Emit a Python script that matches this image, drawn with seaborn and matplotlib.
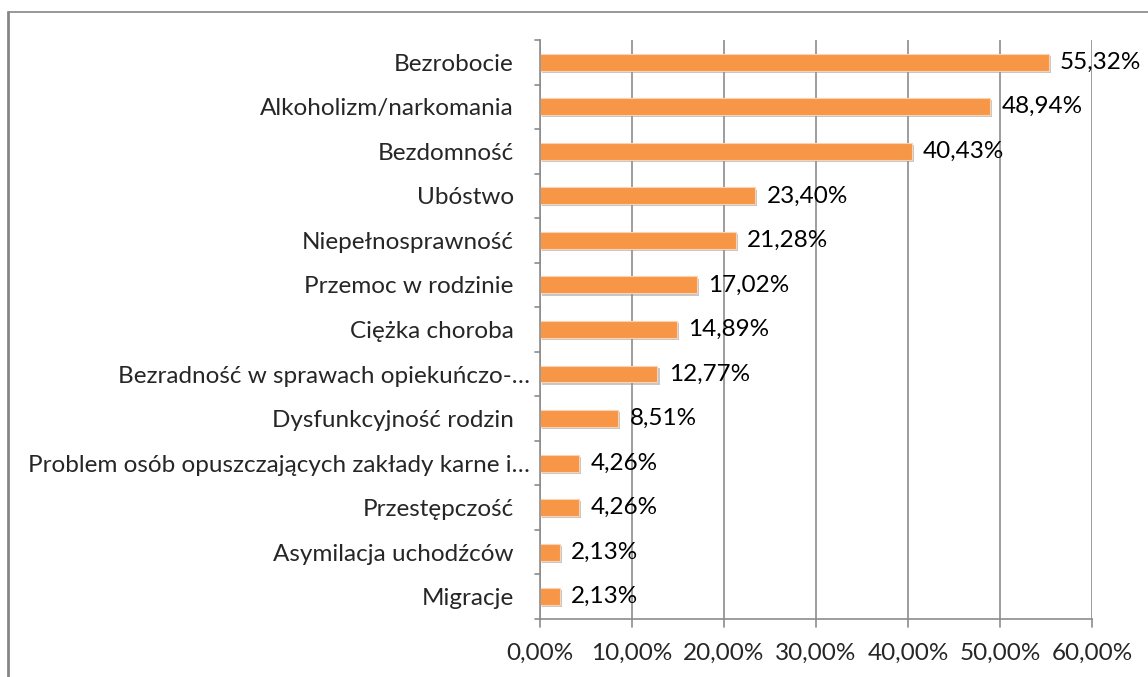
import matplotlib
matplotlib.use("Agg")
import matplotlib.pyplot as plt
import matplotlib.patheffects as pe
import matplotlib.transforms as mtransforms
import seaborn as sns
import pandas as pd

categories = ["Bezrobocie", "Alkoholizm/narkomania", "Bezdomność", "Ubóstwo",
              "Niepełnosprawność", "Przemoc w rodzinie", "Ciężka choroba",
              "Bezradność w sprawach opiekuńczo-…",
              "Dysfunkcyjność rodzin",
              "Problem osób opuszczających zakłady karne i…",
              "Przestępczość", "Asymilacja uchodźców", "Migracje"]
values = [55.32, 48.94, 40.43, 23.40, 21.28, 17.02, 14.89, 12.77, 8.51, 4.26, 4.26, 2.13, 2.13]
xticks = [0, 10, 20, 30, 40, 50, 60]

df = pd.DataFrame({"cat": categories, "val": values})

sns.set_theme(style="white")
plt.rcParams['font.family'] = ['Lato', 'DejaVu Sans']
FS = 17.5

fig = plt.figure(figsize=(11.48, 6.77), dpi=100)
ax = fig.add_axes([0.4704, 0.0857, 0.4808, 0.8552])

sns.barplot(data=df, y="cat", x="val", orient="h", color="#F79646",
            saturation=1, width=0.38, ax=ax, edgecolor="#FBD3B3", linewidth=0.8)
for p in ax.patches:
    p.set_path_effects([pe.SimplePatchShadow(offset=(1.5, -1.5), shadow_rgbFace="#909090", alpha=0.5), pe.Normal()])

labels = [f"{v:.2f}".replace(".", ",") + "%" for v in values]
ax.bar_label(ax.containers[0], labels=labels, padding=8, fontsize=FS, color="#000000")

ax.set_xlim(0, 60)
ax.set_ylim(len(categories) - 0.5, -0.5)
ax.set_xticks(xticks)
ax.set_xticklabels([f"{t:.2f}".replace(".", ",") + "%" for t in xticks], fontsize=FS)
ax.set_xlabel("")
ax.set_ylabel("")
ax.tick_params(axis="y", labelsize=FS, length=0, pad=19)
ax.tick_params(axis="x", length=0, pad=17)
ax.xaxis.grid(True, color="#8C8C8C", linewidth=1.2)
ax.set_axisbelow(True)
for s in ["top", "right"]:
    ax.spines[s].set_visible(False)
ax.spines["left"].set_color("#8C8C8C")
ax.spines["bottom"].set_color("#8C8C8C")
ax.spines["left"].set_linewidth(1.2)
ax.spines["bottom"].set_linewidth(1.2)

# truncated labels sit a bit further right, as in the original
fig.canvas.draw()
for lbl in ax.get_yticklabels():
    if lbl.get_text().endswith("…"):
        lbl.set_transform(lbl.get_transform() + mtransforms.ScaledTranslation(16/100, 0, fig.dpi_scale_trans))

# category boundary ticks on y axis and tick marks on x axis
for b in [i - 0.5 for i in range(len(categories) + 1)]:
    ax.plot([-0.55, 0], [b, b], color="#8C8C8C", lw=1.2, clip_on=False)
for t in xticks:
    ax.plot([t, t], [len(categories) - 0.5, len(categories) - 0.5 + 0.17], color="#8C8C8C", lw=1.2, clip_on=False)

# outer border (left and top only visible)
fig.add_artist(plt.Line2D([8/1148, 8/1148], [0, 1 - 12/677], color="#868686", lw=2, transform=fig.transFigure))
fig.add_artist(plt.Line2D([8/1148, 1], [1 - 12/677, 1 - 12/677], color="#868686", lw=1.2, transform=fig.transFigure))

fig.savefig("out.png", dpi=100)
